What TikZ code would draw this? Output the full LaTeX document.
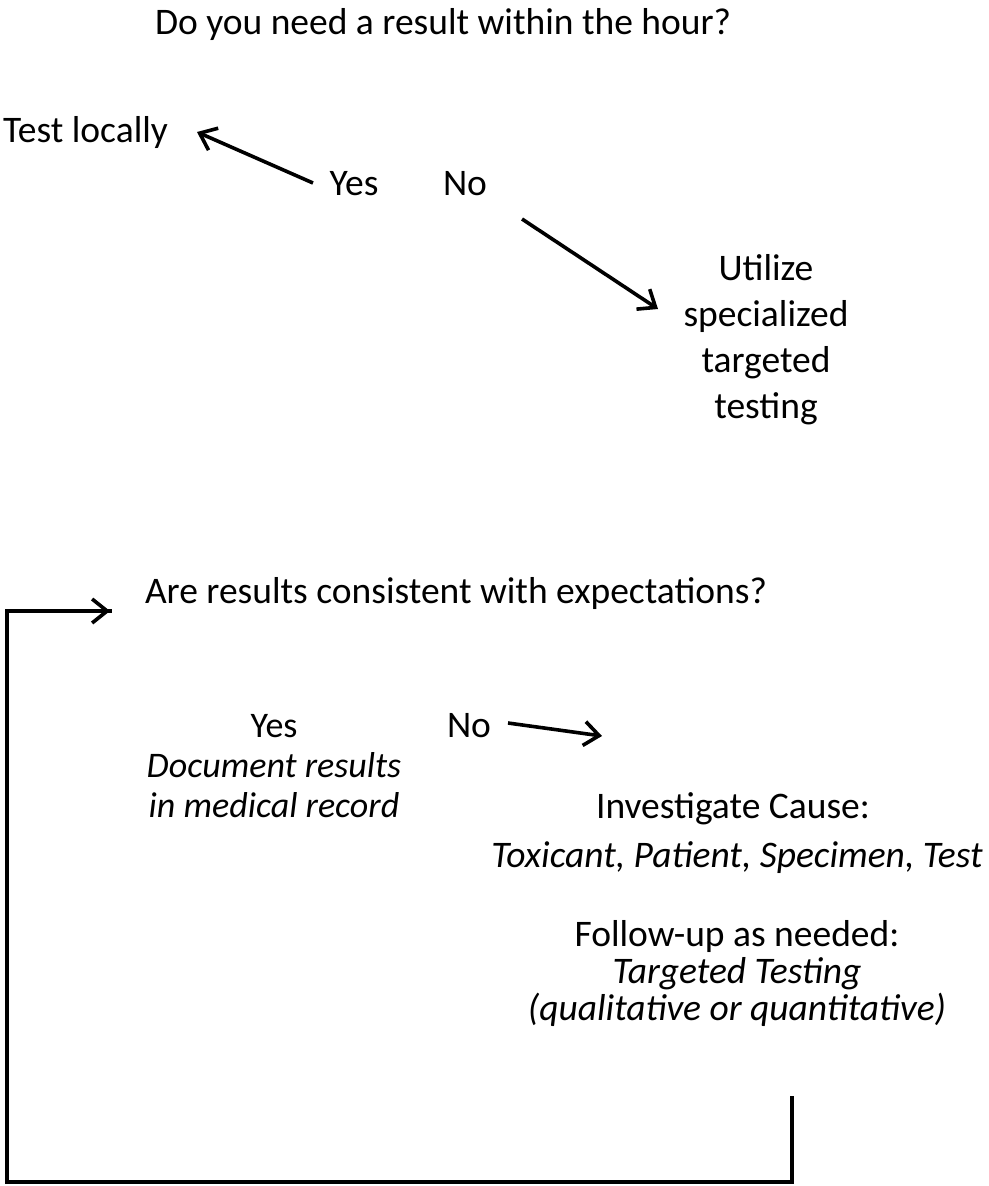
\documentclass[tikz,border=0pt]{standalone}
\usepackage{fontspec}
\setmainfont{Carlito}
\usetikzlibrary{arrows.meta}
\begin{document}
\begin{tikzpicture}[x=1pt,y=-1pt,
  txt/.style={inner sep=0pt,outer sep=0pt,font=\fontsize{37.5}{44}\selectfont},
  arr/.style={line width=3.6pt,-{Straight Barb[length=15pt,width=24pt,line width=3.6pt]}},
  loopline/.style={line width=4pt,line cap=rect,line join=miter}]
\useasboundingbox (0,0) rectangle (988,1186);
% upper part
\node[txt,anchor=base west] (q1) at (155,34) {Do you need a result within the hour?};
\node[txt,anchor=base west] (local) at (3,142) {Test locally};
\node[txt,anchor=base] (yes1) at (354,195) {Yes};
\node[txt,anchor=base] (no1) at (465,195) {No};
\node[txt,anchor=base,align=center,font=\fontsize{37.5}{46}\selectfont] (spec) at (766,418) {Utilize\\specialized\\targeted\\testing};
\coordinate (yes1tail) at (313,183);
\coordinate (yes1tip) at (197,132);
\coordinate (no1tail) at (522,219);
\coordinate (no1tip) at (658,309);
\draw[arr] (yes1tail) -- (yes1tip);
\draw[arr] (no1tail) -- (no1tip);
% lower part
\node[txt,anchor=base west] (q2) at (145,603) {Are results consistent with expectations?};
\node[txt,anchor=base,align=center,font=\fontsize{36}{40}\selectfont] (yes2) at (274,817) {Yes\\\textit{Document results}\\\textit{in medical record}};
\node[txt,anchor=base] (no2) at (469,737) {No};
\coordinate (no2tail) at (508,723);
\coordinate (no2tip) at (602,736);
\draw[arr] (no2tail) -- (no2tip);
\node[txt,anchor=base] (inv) at (733,818) {Investigate Cause:};
\node[txt,anchor=base] (tox) at (737,867) {\textit{Toxicant, Patient, Specimen, Test}};
\node[txt,anchor=base,align=center,font=\fontsize{37.5}{37}\selectfont] (follow) at (737,1020) {Follow-up as needed:\\\textit{Targeted Testing}\\\textit{(qualitative or quantitative)}};
% feedback loop
\coordinate (loopstart) at (792,1098);
\coordinate (loopbr) at (792,1182);
\coordinate (loopbl) at (7,1182);
\coordinate (looptl) at (7,611);
\coordinate (looptip) at (110,611);
\draw[loopline] (loopstart) -- (loopbr) -- (loopbl) -- (looptl) -- (looptip);
\draw[arr] (looptl) -- (looptip);
\end{tikzpicture}
\end{document}
